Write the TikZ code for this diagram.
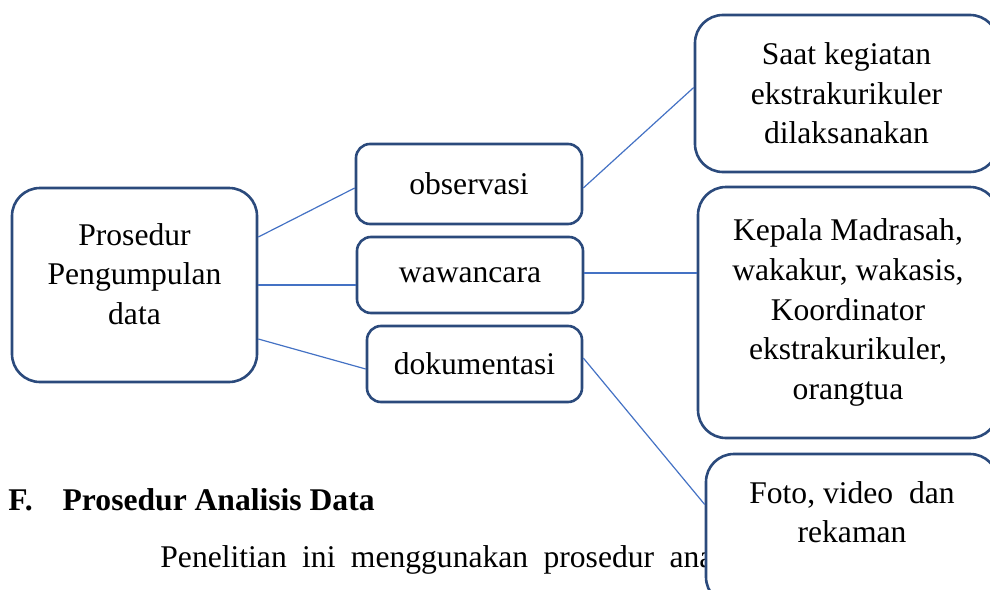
\documentclass[tikz,border=0pt]{standalone}
\usepackage{fontspec}
\setmainfont{Liberation Serif}
\usepackage{xcolor}
\definecolor{box-blue}{HTML}{2B4A7C}
\definecolor{line-blue}{HTML}{4472C4}
\usepackage{tikz}
\tikzset{box/.style = {draw=box-blue, line width=1.3pt, rounded corners=7pt, fill=white, align=center, text centered}}
\tikzset{bigbox/.style = {box, rounded corners=14pt}}
\tikzset{link/.style = {draw=line-blue, line width=.6pt}}
\tikzset{plain/.style = {anchor=base west, inner sep=0pt}}

\begin{document}
\begin{tikzpicture}[x=.5pt, y=-.5pt,
  font=\fontsize{15.8}{19.8}\selectfont
]
\useasboundingbox (0,0) rectangle (990,589);
\clip (0,0) rectangle (990,589);

\node[bigbox, minimum width=122.5pt, minimum height=97pt] (pk) at (134.5,285) {Prosedur\\Pengumpulan\\data\\[-8.8pt]};
\node[box, minimum width=113pt, minimum height=40pt] (obs) at (469,184) {observasi};
\node[box, minimum width=113pt, minimum height=38pt] (wwc) at (470,275) {wawancara};
\node[box, minimum width=107.5pt, minimum height=38pt] (dok) at (474.5,364) {dokumentasi};
\node[bigbox, minimum width=151.5pt, minimum height=78.5pt] (saat) at (846.5,93.5) {Saat kegiatan\\ekstrakurikuler\\dilaksanakan};
\node[bigbox, minimum width=150pt, minimum height=125.5pt] (kep) at (848,312.5) {
  Kepala Madrasah,\\
  wakakur, wakasis,\\
  Koordinator\\
  ekstrakurikuler,\\
  orangtua
};

% text under the chart, the last box sits on top of it
\node[plain, font=\fontsize{15.8}{19.8}\selectfont\bfseries] (head) at (8,510) {F.\hspace{15pt}Prosedur Analisis Data};
\node[plain] (para) at (160,567) {\makebox[276.5pt][s]{Penelitian ini menggunakan prosedur ana}};

\node[bigbox, minimum width=146pt, minimum height=75.5pt] (foto) at (852,529.5) {Foto, video~ dan\\rekaman\\[-2.3pt]};

\draw[link] ([yshift=24pt]pk.east) -- ([yshift=-2pt]obs.west);
\draw[link] (pk.east) -- (pk.east -| wwc.west);
\draw[link] ([yshift=-27pt]pk.east) -- ([yshift=-2.5pt]dok.west);
\draw[link] ([yshift=-2pt]obs.east) -- ([yshift=3pt]saat.west);
\draw[link] ([yshift=1pt]wwc.east) -- ([yshift=1pt]wwc.east -| kep.west);
\draw[link] ([yshift=3pt]dok.east) -- ([yshift=12.5pt]foto.west);

\end{tikzpicture}
\end{document}
